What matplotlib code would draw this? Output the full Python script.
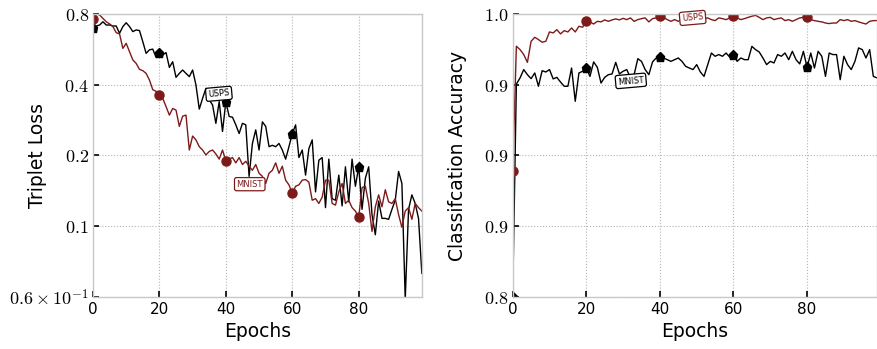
import matplotlib
matplotlib.use("Agg")
import matplotlib.pyplot as plt
import numpy as np

plt.rcParams['mathtext.fontset'] = 'cm'

epochs = np.arange(100)

# triplet loss (left panel)
usps_loss = [0.695, 0.711, 0.718, 0.741, 0.718, 0.718, 0.711, 0.711, 0.662, 0.707,
             0.734, 0.707, 0.673, 0.684, 0.680, 0.610, 0.544, 0.563, 0.567, 0.523,
             0.544, 0.535, 0.548, 0.474, 0.501, 0.430, 0.447, 0.462, 0.447, 0.433,
             0.462, 0.399, 0.315, 0.350, 0.386, 0.345, 0.328, 0.274, 0.339, 0.253,
             0.339, 0.293, 0.291, 0.270, 0.248, 0.274, 0.270, 0.163, 0.225, 0.257,
             0.211, 0.278, 0.266, 0.218, 0.221, 0.218, 0.225, 0.211, 0.193, 0.218,
             0.248, 0.270, 0.196, 0.211, 0.165, 0.214, 0.233, 0.140, 0.191, 0.196,
             0.120, 0.193, 0.131, 0.129, 0.165, 0.122, 0.179, 0.127, 0.193, 0.148,
             0.179, 0.118, 0.160, 0.179, 0.112, 0.092, 0.128, 0.108, 0.108, 0.107,
             0.118, 0.129, 0.171, 0.152, 0.049, 0.118, 0.136, 0.125, 0.108, 0.063]
mnist_loss = [0.759, 0.800, 0.792, 0.766, 0.741, 0.726, 0.707, 0.666, 0.658, 0.571,
              0.600, 0.553, 0.510, 0.493, 0.465, 0.459, 0.447, 0.419, 0.381, 0.375,
              0.362, 0.350, 0.323, 0.297, 0.317, 0.312, 0.266, 0.294, 0.297, 0.211,
              0.242, 0.233, 0.218, 0.211, 0.201, 0.208, 0.211, 0.203, 0.193, 0.211,
              0.190, 0.193, 0.196, 0.186, 0.196, 0.183, 0.189, 0.180, 0.173, 0.183,
              0.168, 0.163, 0.152, 0.168, 0.173, 0.186, 0.168, 0.180, 0.157, 0.150,
              0.138, 0.148, 0.150, 0.157, 0.158, 0.154, 0.129, 0.131, 0.125, 0.133,
              0.157, 0.157, 0.125, 0.123, 0.140, 0.152, 0.125, 0.129, 0.120, 0.116,
              0.109, 0.146, 0.148, 0.125, 0.095, 0.121, 0.136, 0.121, 0.143, 0.127,
              0.125, 0.131, 0.112, 0.099, 0.116, 0.120, 0.107, 0.125, 0.120, 0.116]

# classification accuracy (right panel)
usps_acc = [0.8890, 0.9772, 0.9748, 0.9713, 0.9658, 0.9807, 0.9835, 0.9819, 0.9800, 0.9807,
            0.9873, 0.9866, 0.9889, 0.9859, 0.9882, 0.9873, 0.9901, 0.9873, 0.9913, 0.9906,
            0.9953, 0.9944, 0.9929, 0.9948, 0.9944, 0.9958, 0.9948, 0.9958, 0.9965, 0.9958,
            0.9969, 0.9960, 0.9972, 0.9948, 0.9960, 0.9967, 0.9972, 0.9944, 0.9967, 0.9972,
            0.9984, 0.9976, 0.9960, 0.9948, 0.9960, 0.9948, 0.9960, 0.9965, 0.9958, 0.9962,
            0.9965, 0.9960, 0.9967, 0.9972, 0.9960, 0.9953, 0.9972, 0.9967, 0.9960, 0.9972,
            0.9984, 0.9972, 0.9960, 0.9967, 0.9976, 0.9984, 0.9990, 0.9976, 0.9960, 0.9972,
            0.9976, 0.9960, 0.9967, 0.9972, 0.9953, 0.9960, 0.9948, 0.9960, 0.9972, 0.9976,
            0.9976, 0.9960, 0.9953, 0.9948, 0.9944, 0.9936, 0.9932, 0.9936, 0.9936, 0.9960,
            0.9953, 0.9960, 0.9948, 0.9953, 0.9944, 0.9936, 0.9929, 0.9948, 0.9953, 0.9953]
mnist_acc = [0.8000, 0.9505, 0.9548, 0.9607, 0.9571, 0.9543, 0.9583, 0.9489, 0.9599, 0.9590,
             0.9607, 0.9541, 0.9552, 0.9519, 0.9489, 0.9489, 0.9618, 0.9383, 0.9583, 0.9595,
             0.9618, 0.9559, 0.9661, 0.9623, 0.9512, 0.9552, 0.9571, 0.9576, 0.9658, 0.9576,
             0.9595, 0.9607, 0.9548, 0.9571, 0.9684, 0.9665, 0.9607, 0.9571, 0.9661, 0.9689,
             0.9694, 0.9689, 0.9677, 0.9665, 0.9677, 0.9689, 0.9665, 0.9630, 0.9618, 0.9607,
             0.9642, 0.9590, 0.9559, 0.9642, 0.9724, 0.9701, 0.9713, 0.9701, 0.9724, 0.9694,
             0.9713, 0.9665, 0.9689, 0.9677, 0.9677, 0.9771, 0.9748, 0.9731, 0.9689, 0.9642,
             0.9665, 0.9654, 0.9713, 0.9701, 0.9724, 0.9677, 0.9736, 0.9677, 0.9647, 0.9736,
             0.9623, 0.9724, 0.9618, 0.9736, 0.9701, 0.9559, 0.9724, 0.9713, 0.9713, 0.9536,
             0.9701, 0.9642, 0.9607, 0.9665, 0.9760, 0.9748, 0.9689, 0.9748, 0.9559, 0.9548]

loss_ticks = [0.05, 0.1, 0.2, 0.4, 0.8]
loss_ticklabels = [r'$0.6\times10^{-1}$', r'$0.1$', r'$0.2$', r'$0.4$', r'$0.8$']
acc_ticks = [0.8, 0.85, 0.9, 0.95, 1.0]
acc_ticklabels = [r'$0.8$', r'$0.9$', r'$0.9$', r'$0.9$', r'$1.0$']
xticks = [0, 20, 40, 60, 80]

RED = '#7d1a1a'
BLACK = 'black'

fig = plt.figure(figsize=(8.77, 3.49), dpi=100)
ax1 = fig.add_axes([0.106, 0.149, 0.375, 0.811])
ax2 = fig.add_axes([0.5846, 0.149, 0.4154, 0.811])


def style(ax):
    for s in ax.spines.values():
        s.set_color('#c8c8c8')
        s.set_linewidth(1.0)
    ax.grid(True, which='major', linestyle=':', color='#b5b5b5', linewidth=0.8)
    ax.tick_params(direction='in', length=4, width=1.2, color='black',
                   top=False, right=False, labelsize=11)
    ax.tick_params(axis='y', labelsize=13, pad=3)
    ax.tick_params(which='minor', left=False, bottom=False)
    ax.set_xlim(0, 99)
    ax.set_xticks(xticks)
    ax.set_xlabel('Epochs', fontsize=13.5)
    ax.set_axisbelow(True)


def tag(ax, x, y, txt, col, rot=0):
    ax.text(x, y, txt, fontsize=6, color=col, ha='center', va='center', rotation=rot,
            bbox=dict(boxstyle='round,pad=0.25', fc='white', ec=col, lw=0.9), zorder=5)


# left: triplet loss
ax1.plot(epochs, usps_loss, color=BLACK, lw=1.0, marker='p', markersize=6.5,
         markevery=20)
ax1.plot(epochs, mnist_loss, color=RED, lw=1.0, marker='o', markersize=6.5,
         markevery=20)
ax1.set_yscale('log')
ax1.set_ylim(0.05, 0.8)
ax1.set_yticks(loss_ticks)
ax1.set_yticklabels(loss_ticklabels)
ax1.minorticks_off()
style(ax1)
ax1.set_ylabel('Triplet Loss', fontsize=13.5)
ax1.yaxis.set_label_coords(-0.14, 0.5)
tag(ax1, 37.9, 0.366, 'USPS', BLACK, 5)
tag(ax1, 47.2, 0.151, 'MNIST', RED, 0)

# right: classification accuracy
ax2.plot(epochs, mnist_acc, color=BLACK, lw=1.0, marker='p', markersize=6.5,
         markevery=20)
ax2.plot(epochs, usps_acc, color=RED, lw=1.0, marker='o', markersize=6.5,
         markevery=20)
ax2.set_ylim(0.8, 1.0)
ax2.set_yticks(acc_ticks)
ax2.set_yticklabels(acc_ticklabels)
style(ax2)
ax2.set_ylabel('Classifcation Accuracy', fontsize=13.5)
ax2.yaxis.set_label_coords(-0.125, 0.5)
tag(ax2, 48.9, 0.9972, 'USPS', RED, 5)
tag(ax2, 32.1, 0.9527, 'MNIST', BLACK, 5)

fig.savefig('out.png', dpi=100)
